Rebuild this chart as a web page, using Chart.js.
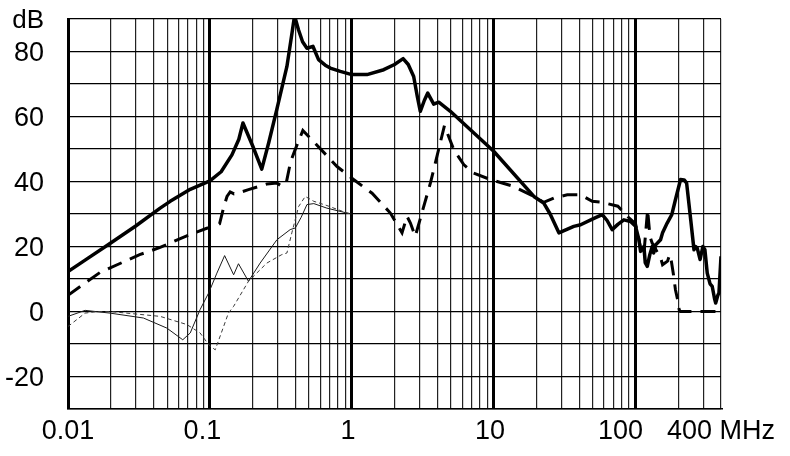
<!DOCTYPE html>
<html><head><meta charset="utf-8">
<script src="https://cdn.jsdelivr.net/npm/chart.js@4.4.0/dist/chart.umd.min.js"></script>
<style>html,body{margin:0;padding:0;background:#fff}canvas{display:block}</style>
</head><body>
<canvas id="c" width="790" height="456"></canvas>
<script>
// ---- data (frequency in MHz, level in dB) ----
const heavySolidFreq = [0.01,0.0132,0.02,0.03,0.0446,0.0525,0.0727,0.1,0.12,0.143,0.16,0.171,0.2,0.232,0.26,0.296,0.349,0.38,0.395,0.421,0.45,0.483,0.532,0.583,0.65,0.705,0.83,1.0,1.28,1.68,2.0,2.3,2.5,2.73,2.9,3.04,3.25,3.43,3.78,4.1,4.95,10,19.2,22.5,25,28.8,36.7,41,50,58.2,63,68.4,75,82.7,92.2,100,105.6,108.4,111,114.5,117,120.9,126,131,134,138.5,150,155,167,180,190,207.5,220,229,245,258,265,272,285,298,308,320,335,347,360,367,380,387,400];
const heavySolidDb   = [12.3,15.8,21.1,26.3,31.8,33.9,37.6,40.2,43,48.2,53,58,51,43.8,52,62.1,75.4,86,91,86.7,83,81,81.6,77.5,75.8,74.9,73.9,72.9,72.9,74.4,76,77.8,76,72.3,66,61.6,65,67.2,63.8,64.4,61.6,49.3,35.4,33.4,30,24.2,26.2,26.7,28.5,29.8,28,25.2,26.8,28.2,27.7,26.2,22.1,18.5,19.5,20,15,13.9,17.5,20,18,20.5,22.1,24.2,27.2,29.8,34,40.6,40.5,39.5,28,19,20,19.5,16,20,19,11.8,8.5,7.7,4,2.6,5,5.7,17];

const heavyDashFreq = [0.01,0.0168,0.032,0.0446,0.0687,0.095,0.11,0.117,0.125,0.132,0.139,0.148,0.159,0.187,0.252,0.297,0.32,0.345,0.37,0.399,0.452,0.538,0.787,1.03,1.39,1.87,2.26,2.45,2.59,2.8,3.58,4.5,5.23,6.15,7.2,9.5,13.8,19.2,22.5,26.5,33,41,49.5,58,75,89,100,108,114,121.6,124,126.5,131,134,141,150,155,162,168,174,179,185,191,198,203,207,400];
const heavyDashDb   = [5,12,17.5,19.7,23.3,25.6,26.2,27,32,35.4,36.8,36.2,36.5,37.5,39.2,39.5,38.6,39.5,46,49.8,55.7,52.3,44.6,40.6,36.4,30.3,24.2,29.3,27.2,23.1,39.5,57.2,49.8,45.2,42.6,40.6,38.5,35.4,33.6,34.9,35.9,35.9,33.9,33.6,32.4,29,27,20,17,31.3,27,23,21,20.5,18.5,16.6,14.4,15,15.5,17.5,15.3,11.3,6.7,3.6,0.5,0,0];

const lightSolidFreq = [0.01,0.0132,0.0198,0.034,0.0497,0.0644,0.0727,0.0853,0.098,0.112,0.127,0.147,0.159,0.187,0.226,0.297,0.368,0.4,0.44,0.483,0.54,0.668,0.925,1.0];
const lightSolidDb   = [-1.5,0.35,-0.5,-2,-5.1,-8.7,-6.6,0.6,5.7,11.8,17.2,11.3,14.7,9.3,14.9,22.1,25.2,25.7,29,32.9,33.2,31.8,30.3,30];

const lightDashFreq = [0.01,0.0132,0.016,0.0198,0.0446,0.0687,0.0853,0.098,0.109,0.125,0.135,0.147,0.187,0.252,0.321,0.349,0.378,0.422,0.47,0.54,0.668,0.925,1.0];
const lightDashDb   = [-4.6,-0.5,0,0,-1.5,-4,-6.6,-10.2,-11.8,-4.6,-0.5,1.6,9.3,14.9,17.5,18,24.2,32.3,35.4,33.9,32.6,30.3,30];

// ---- axis ticks / labels ----
const xDecades = [0.01,0.1,1,10,100];
const xMax = 400;
const xLabelValues = [0.01,0.1,1,10,100,400];
const xLabelTexts  = ['0.01','0.1  ','1 ','10 ','100    ','400 MHz'];
const yGridValues  = [-30,-20,-10,0,10,20,30,40,50,60,70,80,90];
const yLabelValues = [90,80,60,40,20,0,-20];
const yLabelTexts  = ['dB','80','60','40','20','0','-20'];

// grid positions: 1..9 per decade up to 400
const xGrid = [];
xDecades.forEach(d => { for (let m = 1; m <= 9; m++) { const v = d*m; if (v <= xMax*1.0001) xGrid.push(m===1 ? d : v); } });

const pts = (f, v) => f.map((x, i) => ({x: x, y: v[i]}));
const FONT = "'Liberation Sans', Arial, Helvetica, sans-serif";

new Chart(document.getElementById('c'), {
  type: 'line',
  data: {
    datasets: [
      {data: pts(lightDashFreq, lightDashDb), borderColor: '#3a3a3a', borderWidth: 1, borderDash: [4,3], pointRadius: 0, tension: 0, fill: false},
      {data: pts(lightSolidFreq, lightSolidDb), borderColor: '#1a1a1a', borderWidth: 1, pointRadius: 0, tension: 0, fill: false},
      {data: pts(heavyDashFreq, heavyDashDb), borderColor: '#000', borderWidth: 3, borderDash: [15,9], pointRadius: 0, tension: 0, fill: false},
      {data: pts(heavySolidFreq, heavySolidDb), borderColor: '#000', borderWidth: 3.5, pointRadius: 0, tension: 0, fill: false, borderJoinStyle: 'round'}
    ]
  },
  options: {
    responsive: false,
    animation: false,
    events: [],
    layout: {padding: {left: 0, top: 19, right: 69, bottom: 0}},
    plugins: {legend: {display: false}, tooltip: {enabled: false}},
    scales: {
      x: {
        type: 'logarithmic',
        min: 0.01, max: xMax,
        afterBuildTicks: s => { s.ticks = xGrid.map(v => ({value: v})); },
        afterFit: s => { s.height = 47; s.paddingLeft = 0; s.paddingRight = 0; },
        grid: {
          color: ctx => (ctx.tick && xDecades.includes(ctx.tick.value)) ? '#000' : '#222',
          lineWidth: ctx => (ctx.tick && xDecades.includes(ctx.tick.value)) ? 3 : 1.2,
          drawTicks: false
        },
        border: {display: true, color: '#000', width: 1.5},
        ticks: {
          autoSkip: false, maxRotation: 0, minRotation: 0, padding: 6,
          color: '#000', font: {family: FONT, size: 27},
          callback: v => { const i = xLabelValues.indexOf(v); return i >= 0 ? xLabelTexts[i] : ''; }
        }
      },
      y: {
        type: 'linear',
        min: -30, max: 90,
        afterBuildTicks: s => { s.ticks = yGridValues.map(v => ({value: v})); },
        afterFit: s => { s.width = 68; s.paddingTop = 0; s.paddingBottom = 0; },
        grid: {color: '#000', lineWidth: 1.3, drawTicks: false},
        border: {display: true, color: '#000', width: 3},
        ticks: {
          autoSkip: false,
          padding: 24, labelOffset: 2, color: '#000',
          font: ctx => ({family: FONT, size: (ctx.tick && ctx.tick.value === 90) ? 26 : 27}),
          callback: v => { const i = yLabelValues.indexOf(v); return i >= 0 ? yLabelTexts[i] : ''; }
        }
      }
    }
  }
});
</script>
</body></html>
